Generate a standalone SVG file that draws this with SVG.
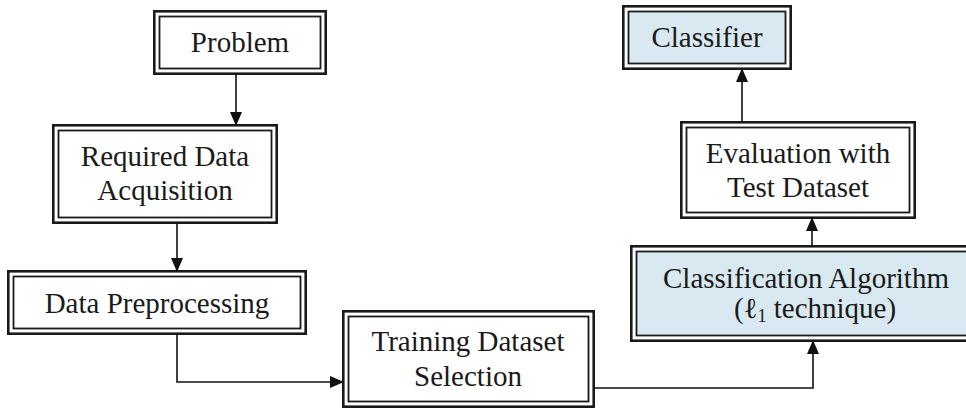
<svg xmlns="http://www.w3.org/2000/svg" width="966" height="409" viewBox="0 0 966 409">
  <defs>
    <marker id="arrow" viewBox="0 0 14 12" refX="13" refY="6" markerWidth="14" markerHeight="12" markerUnits="userSpaceOnUse" orient="auto">
      <path d="M0,0 L14,6 L0,12 Z" fill="#111"/>
    </marker>
  </defs>
  <style>
    .outer { fill: #ffffff; stroke: #1a1a1a; stroke-width: 2.6; }
    .inner { fill: #ffffff; stroke: #1a1a1a; stroke-width: 1.8; }
    .blue .inner { fill: #d9e9f1; }
    .label { font-family: "Liberation Serif", "Times New Roman", serif; font-size: 29px; fill: #1a1a1a; text-anchor: middle; }
    .conn { fill: none; stroke: #111; stroke-width: 1.6; marker-end: url(#arrow); }
  </style>
  <rect width="966" height="409" fill="#ffffff"/>

  <g id="problem">
    <rect class="outer" x="154.3" y="11.3" width="171.4" height="62.4"/>
    <rect class="inner" x="159.5" y="16.5" width="161" height="52"/>
    <text class="label" x="240" y="52">Problem</text>
  </g>

  <g id="acquisition">
    <rect class="outer" x="53.3" y="125.3" width="223.4" height="97.4"/>
    <rect class="inner" x="58.5" y="130.5" width="213" height="87"/>
    <text class="label" x="165" y="166">Required Data</text>
    <text class="label" x="165" y="200">Acquisition</text>
  </g>

  <g id="preprocessing">
    <rect class="outer" x="8.3" y="271.3" width="297.4" height="62.4"/>
    <rect class="inner" x="13.5" y="276.5" width="287" height="52"/>
    <text class="label" x="157" y="313">Data Preprocessing</text>
  </g>

  <g id="training">
    <rect class="outer" x="343.3" y="311.3" width="250.4" height="95.4"/>
    <rect class="inner" x="348.5" y="316.5" width="240" height="85"/>
    <text class="label" x="468" y="351">Training Dataset</text>
    <text class="label" x="468" y="386">Selection</text>
  </g>

  <g id="classification" class="blue">
    <rect class="outer" x="631.3" y="246.3" width="360" height="94.4"/>
    <rect class="inner" x="636.5" y="251.5" width="360" height="84"/>
    <text class="label" x="806" y="288">Classification Algorithm</text>
    <text class="label" x="815" y="318">(ℓ<tspan font-size="18" dy="4">1</tspan><tspan dy="-4"> technique)</tspan></text>
  </g>

  <g id="evaluation">
    <rect class="outer" x="681.3" y="122.3" width="233.4" height="95.4"/>
    <rect class="inner" x="686.5" y="127.5" width="223" height="85"/>
    <text class="label" x="798" y="163">Evaluation with</text>
    <text class="label" x="798" y="197">Test Dataset</text>
  </g>

  <g id="classifier" class="blue">
    <rect class="outer" x="623.3" y="6.3" width="167.4" height="62.4"/>
    <rect class="inner" x="628.5" y="11.5" width="157" height="52"/>
    <text class="label" x="707" y="47">Classifier</text>
  </g>

  <g id="connectors">
    <path class="conn" d="M236,74 L236,125"/>
    <path class="conn" d="M177,223 L177,271"/>
    <path class="conn" d="M177,334 L177,382 L343,382"/>
    <path class="conn" d="M594,388 L813,388 L813,341"/>
    <path class="conn" d="M812,246 L812,218"/>
    <path class="conn" d="M742,122 L742,69"/>
  </g>
</svg>
